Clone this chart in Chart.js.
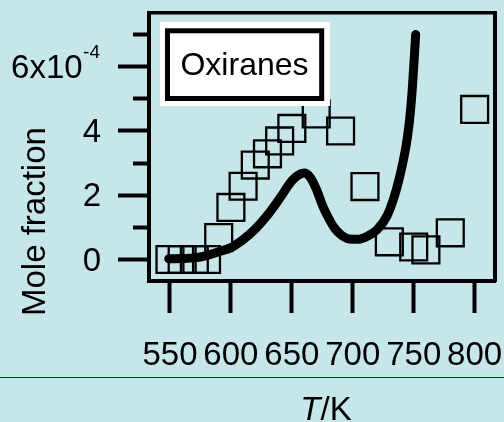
<!DOCTYPE html>
<html>
<head>
<meta charset="utf-8">
<script src="https://cdn.jsdelivr.net/npm/chart.js@4/dist/chart.umd.min.js"></script>
<style>
  html, body { margin: 0; padding: 0; background: #c7e6ea; }
  canvas { display: block; }
</style>
</head>
<body>
<canvas id="chart" width="504" height="422"></canvas>
<script>
// Measured oxirane mole fractions (in units of 1e-4) against temperature (K)
const measuredT = [550, 560, 570, 580, 590, 600, 610, 620, 630, 640, 650, 670, 690, 710, 730, 750, 760, 780, 800];
const measuredX = [0, 0, 0, 0, 0.68, 1.62, 2.28, 2.94, 3.29, 3.69, 4.08, 4.53, 4.00, 2.27, 0.55, 0.39, 0.30, 0.83, 4.67];

// Simulated profile (same units)
const modelT = [549, 560, 570, 580, 590, 600, 610, 620, 630, 640, 650, 655, 660, 665, 670, 675, 680, 685, 690, 697, 705, 712, 720, 728, 734, 738, 741, 744, 746.5, 749, 751.6];
const modelX = [0.02, 0.03, 0.05, 0.12, 0.24, 0.37, 0.62, 0.95, 1.38, 1.9, 2.45, 2.62, 2.69, 2.56, 2.2, 1.7, 1.3, 0.98, 0.78, 0.64, 0.63, 0.72, 0.93, 1.35, 1.95, 2.5, 3.0, 3.6, 4.3, 5.4, 7.0];

const xTicks = [550, 600, 650, 700, 750, 800];
const yMajorTicks = [0, 2, 4, 6];
const yMinorTicks = [1, 3, 5, 7];

const legendText = 'Oxiranes';
const yTitle = 'Mole fraction';
const xTitleItalic = 'T';
const xTitleRest = '/K';
const yExponent = '-4';

const FONT = "'Liberation Sans', Arial, Helvetica, sans-serif";
const BG = '#c7e6ea';
const INK = '#000000';

const X_MIN = 532.8, X_MAX = 816.7;
const Y_MIN = -0.669, Y_MAX = 7.672;

const Y_TICK_LEN = 31, Y_LABEL_PAD = 17;
const LABEL_SIZE = 33;

// axes here never push the plot area inward for label overhang
function noOverhang(s) {
  s.paddingLeft = 0;
  s.paddingRight = 0;
  s.paddingTop = 0;
  s.paddingBottom = 0;
}

const decor = {
  id: 'decor',
  beforeDraw(chart) {
    const { ctx, width, height } = chart;
    ctx.save();
    ctx.fillStyle = BG;
    ctx.fillRect(0, 0, width, height);
    ctx.restore();
  },
  afterDatasetsDraw(chart) {
    // boxed key in the upper left of the plot
    const { ctx } = chart;
    ctx.save();
    ctx.fillStyle = '#ffffff';
    ctx.fillRect(160, 22, 170, 84);
    ctx.strokeStyle = INK;
    ctx.lineWidth = 5;
    ctx.strokeRect(167.5, 30.8, 154.2, 67.7);
    ctx.fillStyle = INK;
    ctx.font = `32px ${FONT}`;
    ctx.textAlign = 'center';
    ctx.textBaseline = 'middle';
    ctx.fillText(legendText, 244.5, 66);
    ctx.restore();
  },
  afterDraw(chart) {
    const { ctx } = chart;
    const ys = chart.scales.y;
    ctx.save();
    ctx.fillStyle = INK;

    // exponent on the top labelled tick
    const p6 = ys.getPixelForValue(6);
    ctx.font = `19px ${FONT}`;
    ctx.textAlign = 'right';
    ctx.textBaseline = 'alphabetic';
    ctx.fillText(yExponent, ys.right - Y_TICK_LEN - Y_LABEL_PAD - 1, p6 - 8.7);

    // vertical axis title
    ctx.save();
    ctx.translate(45, 316);
    ctx.rotate(-Math.PI / 2);
    ctx.font = `${LABEL_SIZE}px ${FONT}`;
    ctx.textAlign = 'left';
    ctx.textBaseline = 'alphabetic';
    ctx.fillText(yTitle, 0, 0);
    ctx.restore();

    // horizontal axis title: italic T followed by /K
    const italicFont = `italic ${LABEL_SIZE}px ${FONT}`;
    const plainFont = `${LABEL_SIZE}px ${FONT}`;
    ctx.font = italicFont;
    const w1 = ctx.measureText(xTitleItalic).width;
    ctx.font = plainFont;
    const w2 = ctx.measureText(xTitleRest).width;
    const startX = 326 - (w1 + w2) / 2;
    ctx.textAlign = 'left';
    ctx.textBaseline = 'alphabetic';
    ctx.font = italicFont;
    ctx.fillText(xTitleItalic, startX, 420);
    ctx.font = plainFont;
    ctx.fillText(xTitleRest, startX + w1, 420);

    // separator rule
    ctx.strokeStyle = '#7a0a0a';
    ctx.lineWidth = 1;
    ctx.beginPath();
    ctx.moveTo(0, 377.5);
    ctx.lineTo(chart.width, 377.5);
    ctx.stroke();
    ctx.restore();
  }
};

const tickFont = { family: FONT, size: LABEL_SIZE };

new Chart(document.getElementById('chart'), {
  type: 'scatter',
  data: {
    datasets: [
      {
        type: 'line',
        label: 'model',
        data: modelT.map((t, i) => ({ x: t, y: modelX[i] })),
        xAxisID: 'x',
        yAxisID: 'y',
        borderColor: INK,
        borderWidth: 9,
        borderCapStyle: 'round',
        borderJoinStyle: 'round',
        pointRadius: 0,
        fill: false,
        cubicInterpolationMode: 'monotone',
        order: 0
      },
      {
        type: 'scatter',
        label: legendText,
        data: measuredT.map((t, i) => ({ x: t, y: measuredX[i] })),
        xAxisID: 'x',
        yAxisID: 'y',
        pointStyle: 'rect',
        pointRadius: 19,
        pointHoverRadius: 19,
        borderWidth: 2.3,
        borderColor: INK,
        backgroundColor: 'rgba(0,0,0,0)',
        order: 1
      }
    ]
  },
  options: {
    responsive: false,
    devicePixelRatio: 1,
    animation: false,
    events: [],
    layout: { autoPadding: false, padding: { left: 0, top: 13, right: 9, bottom: 0 } },
    plugins: {
      legend: { display: false },
      tooltip: { enabled: false },
      title: { display: false }
    },
    scales: {
      x: {
        type: 'linear',
        position: 'bottom',
        min: X_MIN,
        max: X_MAX,
        afterBuildTicks: s => { s.ticks = xTicks.map(v => ({ value: v })); },
        afterFit: s => { s.height = 141; noOverhang(s); },
        grid: { drawOnChartArea: false, drawTicks: true, tickLength: 32, tickWidth: 4, tickColor: INK, color: INK },
        border: { display: true, width: 4, color: INK },
        ticks: { font: tickFont, color: INK, padding: 23, maxRotation: 0, minRotation: 0, autoSkip: false }
      },
      y: {
        type: 'linear',
        position: 'left',
        weight: 2,
        min: Y_MIN,
        max: Y_MAX,
        afterBuildTicks: s => { s.ticks = yMajorTicks.map(v => ({ value: v })); },
        afterFit: s => { s.width = 149; noOverhang(s); },
        grid: { drawOnChartArea: false, drawTicks: true, tickLength: Y_TICK_LEN, tickWidth: 4, tickColor: INK, color: INK },
        border: { display: true, width: 4, color: INK },
        ticks: {
          font: tickFont,
          color: INK,
          padding: Y_LABEL_PAD,
          labelOffset: 2,
          autoSkip: false,
          callback: v => (v === 6 ? '6x10  ' : String(v))
        }
      },
      yMinor: {
        type: 'linear',
        position: 'left',
        weight: 1,
        min: Y_MIN,
        max: Y_MAX,
        afterBuildTicks: s => { s.ticks = yMinorTicks.map(v => ({ value: v })); },
        afterFit: s => { s.width = 0; noOverhang(s); },
        grid: { drawOnChartArea: false, drawTicks: true, tickLength: 16, tickWidth: 4, tickColor: INK, color: INK },
        border: { display: false },
        ticks: { display: false, autoSkip: false }
      },
      xTop: {
        type: 'linear',
        position: 'top',
        min: X_MIN,
        max: X_MAX,
        afterFit: s => { s.height = 0; noOverhang(s); },
        grid: { drawOnChartArea: false, drawTicks: false, color: INK },
        border: { display: true, width: 3.5, color: INK },
        ticks: { display: false }
      },
      yRight: {
        type: 'linear',
        position: 'right',
        min: Y_MIN,
        max: Y_MAX,
        afterFit: s => { s.width = 0; noOverhang(s); },
        grid: { drawOnChartArea: false, drawTicks: false, color: INK },
        border: { display: true, width: 4, color: INK },
        ticks: { display: false }
      }
    }
  },
  plugins: [decor]
});
</script>
</body>
</html>
